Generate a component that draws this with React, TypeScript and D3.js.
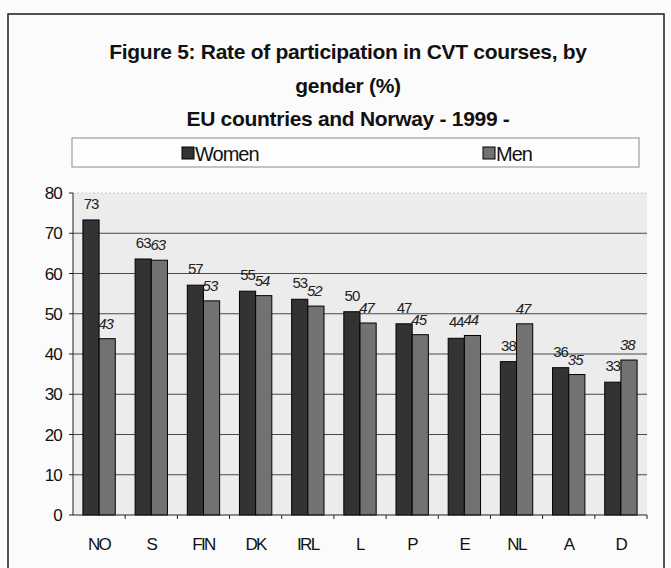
import React from "react";
import * as d3 from "d3";

const countries = ["NO", "S", "FIN", "DK", "IRL", "L", "P", "E", "NL", "A", "D"];
const women = [73.3, 63.6, 57.1, 55.6, 53.6, 50.5, 47.5, 43.9, 38.1, 36.6, 33.0];
const men = [43.8, 63.3, 53.2, 54.5, 51.9, 47.7, 44.8, 44.6, 47.5, 34.9, 38.5];
const womenLabels = ["73", "63", "57", "55", "53", "50", "47", "44", "38", "36", "33"];
const menLabels = ["43", "63", "53", "54", "52", "47", "45", "44", "47", "35", "38"];
const yTicks = [0, 10, 20, 30, 40, 50, 60, 70, 80];
const titleLines = [
  "Figure 5: Rate of participation in CVT courses, by",
  "gender (%)",
  "EU countries and Norway - 1999 -",
];
const seriesNames = ["Women", "Men"];

const W = 671;
const H = 568;
const plot = { left: 73, right: 647, top: 193, bottom: 515 };
const font = "'Liberation Sans', Arial, sans-serif";
const womenColor = "#333333";
const menColor = "#727272";

const App = () => {
  const x = d3.scaleBand<string>()
    .domain(countries)
    .range([plot.left, plot.right])
    .paddingInner(0.38)
    .paddingOuter(0.19);
  const y = d3.scaleLinear().domain([0, 80]).range([plot.bottom, plot.top]);
  const half = x.bandwidth() / 2;
  const step = x.step();

  return (
    <svg width={W} height={H} style={{ position: "absolute", left: 0, top: 0, background: "#fbfbfb" }}>
      {/* outer frame */}
      <rect x={8} y={14} width={656} height={570} fill="#fbfbfb" stroke="#1a1a1a" strokeWidth={1.5} />

      {/* title */}
      {titleLines.map((t, i) => (
        <text key={i} x={348} y={59 + i * 33.5} textAnchor="middle" fontFamily={font}
          fontWeight="bold" fontSize={21} letterSpacing={-0.3} fill="#111">{t}</text>
      ))}

      {/* legend */}
      <rect x={72} y={138} width={567} height={29} fill="#fefefe" stroke="#8a8a8a" strokeWidth={1} />
      {seriesNames.map((s, i) => {
        const lx = i === 0 ? 182 : 483;
        return (
          <g key={s}>
            <rect x={lx} y={147} width={12} height={12} fill={i === 0 ? womenColor : menColor} stroke="#000" />
            <text x={lx + 13} y={161} fontFamily={font} fontSize={20} letterSpacing={-1} fill="#111">{s}</text>
          </g>
        );
      })}

      {/* plot area */}
      <rect x={plot.left} y={plot.top} width={plot.right - plot.left} height={plot.bottom - plot.top} fill="#ececec" />
      {yTicks.filter(t => t > 0).map(t => (
        <line key={t} x1={plot.left} x2={plot.right} y1={y(t)} y2={y(t)}
          stroke={t === 80 ? "#c8c8c8" : "#4a4a4a"} strokeWidth={1}
          strokeDasharray={t === 80 ? "2,2" : undefined} />
      ))}

      {/* bars */}
      {countries.map((c, i) => {
        const x0 = x(c) as number;
        return (
          <g key={c}>
            <rect x={x0} y={y(women[i])} width={half} height={y(0) - y(women[i])}
              fill={womenColor} stroke="#000" strokeWidth={1} />
            <rect x={x0 + half} y={y(men[i])} width={half} height={y(0) - y(men[i])}
              fill={menColor} stroke="#000" strokeWidth={1} />
            <text x={x0 + half / 2} y={y(women[i]) - 11} textAnchor="middle" fontFamily={font}
              fontSize={15} letterSpacing={-1} fill="#222">{womenLabels[i]}</text>
            <text x={x0 + half * 1.4} y={y(men[i]) - 10} textAnchor="middle" fontFamily={font}
              fontSize={15} fontStyle="italic" letterSpacing={-1} fill="#222">{menLabels[i]}</text>
          </g>
        );
      })}

      {/* axes */}
      <line x1={plot.left} x2={plot.left} y1={plot.top} y2={plot.bottom} stroke="#222" />
      <line x1={plot.left} x2={plot.right} y1={plot.bottom} y2={plot.bottom} stroke="#222" />
      {yTicks.map(t => (
        <g key={t}>
          <line x1={plot.left - 4} x2={plot.left} y1={y(t)} y2={y(t)} stroke="#222" />
          <text x={62} y={y(t) + 6} textAnchor="end" fontFamily={font} fontSize={17}
            letterSpacing={-0.8} fill="#111">{t}</text>
        </g>
      ))}
      {countries.map((c, i) => (
        <g key={c}>
          <line x1={plot.left + step * (i + 1)} x2={plot.left + step * (i + 1)} y1={plot.bottom}
            y2={plot.bottom + 4} stroke="#222" />
          <text x={(x(c) as number) + half} y={550} textAnchor="middle" fontFamily={font}
            fontSize={17} letterSpacing={-1.6} fill="#111">{c}</text>
        </g>
      ))}
    </svg>
  );
};

export default App;
